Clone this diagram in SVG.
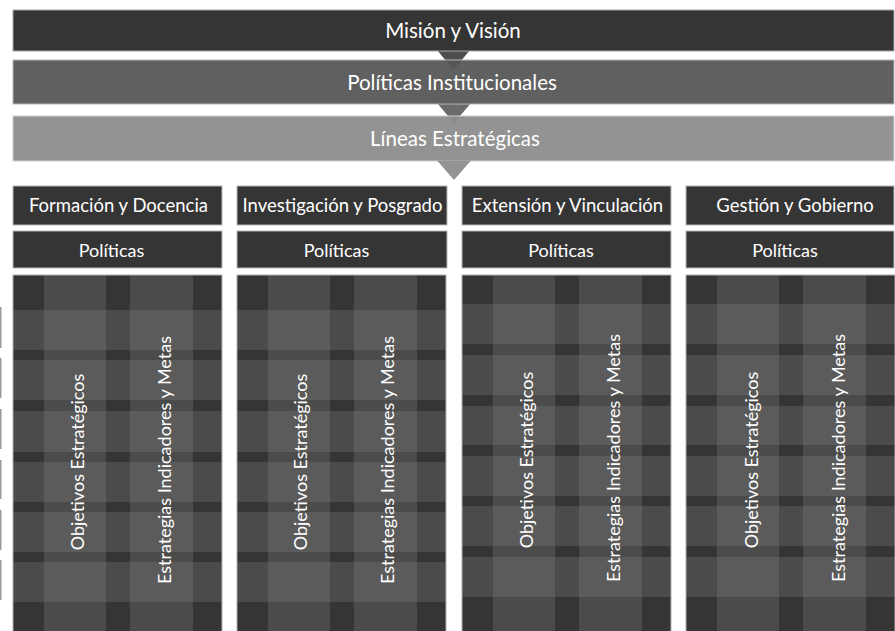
<svg xmlns="http://www.w3.org/2000/svg" xmlns:xlink="http://www.w3.org/1999/xlink" width="895" height="631" viewBox="0 0 895 631">
<style>
  .t { font-family: Lato, "Open Sans", "Liberation Sans", sans-serif; font-size: 18px; fill: #ffffff; text-anchor: middle; }
  .h { font-size: 18.5px; }
  .b { font-size: 20.5px; }
  .box { fill: #353535; stroke: #b8b8b8; stroke-width: 1; }
  .edge { fill: none; stroke: #b0b0b0; stroke-width: 1; }
  .mark { fill: #9a9a9a; }
</style>
<defs>
  <pattern id="lightRow" patternUnits="userSpaceOnUse" x="0" y="0" width="209" height="10">
    <rect x="0" y="0" width="209" height="10" fill="#4b4b4b"/>
    <rect x="31" y="0" width="62" height="10" fill="#5b5b5b"/>
    <rect x="117" y="0" width="63" height="10" fill="#5b5b5b"/>
  </pattern>
  <pattern id="darkRow" patternUnits="userSpaceOnUse" x="0" y="0" width="209" height="10">
    <rect x="0" y="0" width="209" height="10" fill="#353535"/>
    <rect x="31" y="0" width="62" height="10" fill="#4b4b4b"/>
    <rect x="117" y="0" width="63" height="10" fill="#4b4b4b"/>
  </pattern>
  <g id="plaidA">
    <rect x="0" y="0" width="209" height="356" fill="url(#lightRow)"/>
    <rect x="0" y="0" width="209" height="35" fill="url(#darkRow)"/>
    <rect x="0" y="75" width="209" height="10" fill="url(#darkRow)"/>
    <rect x="0" y="125" width="209" height="11" fill="url(#darkRow)"/>
    <rect x="0" y="177" width="209" height="10" fill="url(#darkRow)"/>
    <rect x="0" y="227" width="209" height="10" fill="url(#darkRow)"/>
    <rect x="0" y="277" width="209" height="10" fill="url(#darkRow)"/>
    <rect x="0" y="327" width="209" height="29" fill="url(#darkRow)"/>
    <rect class="edge" x="0" y="0" width="209" height="360"/>
  </g>
  <g id="plaidB">
    <rect x="0" y="0" width="209" height="356" fill="url(#lightRow)"/>
    <rect x="0" y="0" width="209" height="29" fill="url(#darkRow)"/>
    <rect x="0" y="69" width="209" height="11" fill="url(#darkRow)"/>
    <rect x="0" y="120" width="209" height="11" fill="url(#darkRow)"/>
    <rect x="0" y="170" width="209" height="11" fill="url(#darkRow)"/>
    <rect x="0" y="221" width="209" height="10" fill="url(#darkRow)"/>
    <rect x="0" y="271" width="209" height="11" fill="url(#darkRow)"/>
    <rect x="0" y="322" width="209" height="34" fill="url(#darkRow)"/>
    <rect class="edge" x="0" y="0" width="209" height="360"/>
  </g>
</defs>

<rect x="0" y="0" width="895" height="631" fill="#ffffff"/>

<g id="edge-marks">
  <rect class="mark" x="0" y="307" width="1.5" height="41"/>
  <rect class="mark" x="0" y="358" width="1.5" height="40"/>
  <rect class="mark" x="0" y="409" width="1.5" height="40"/>
  <rect class="mark" x="0" y="460" width="1.5" height="39"/>
  <rect class="mark" x="0" y="510" width="1.5" height="40"/>
  <rect class="mark" x="0" y="560" width="1.5" height="40"/>
</g>

<g id="connectors">
  <polygon points="437,50 470,50 453.5,70" fill="#4e4e4e"/>
  <polygon points="437,103 471,103 454,123" fill="#6b6b6b"/>
</g>

<g id="mision">
  <rect x="13" y="10" width="881" height="41" fill="#282828" fill-opacity="0.94" stroke="#a8a8a8" stroke-width="1"/>
  <text class="t b" x="453" y="38">Misión y Visión</text>
</g>
<g id="politicas-institucionales">
  <rect x="13" y="60" width="881" height="44" fill="#565656" fill-opacity="0.94" stroke="#b8b8b8" stroke-width="1"/>
  <text class="t b" x="452" y="89.5">Políticas Institucionales</text>
</g>
<g id="lineas-estrategicas">
  <rect x="13" y="116" width="881" height="45" fill="#8c8c8c" fill-opacity="0.94" stroke="#d0d0d0" stroke-width="1"/>
  <text class="t b" x="455" y="146">Líneas Estratégicas</text>
</g>
<g id="connector-lineas">
  <polygon points="437,160.5 471,160.5 454,180" fill="#939393"/>
</g>

<g id="col-formacion">
  <rect class="box" x="13" y="186" width="209" height="39"/>
  <text class="t h" x="118.5" y="212">Formación y Docencia</text>
  <rect class="box" x="13" y="231" width="209" height="37"/>
  <text class="t" x="111.5" y="257">Políticas</text>
  <use xlink:href="#plaidA" transform="translate(13,275)"/>
  <text class="t" transform="translate(84,462) rotate(-90)">Objetivos Estratégicos</text>
  <text class="t" transform="translate(171,460) rotate(-90)">Estrategias Indicadores y Metas</text>
</g>

<g id="col-investigacion">
  <rect class="box" x="237" y="186" width="210" height="39"/>
  <text class="t h" x="342.5" y="212">Investigación y Posgrado</text>
  <rect class="box" x="237" y="231" width="210" height="37"/>
  <text class="t" x="336.5" y="257">Políticas</text>
  <use xlink:href="#plaidA" transform="translate(237,275)"/>
  <text class="t" transform="translate(307,462) rotate(-90)">Objetivos Estratégicos</text>
  <text class="t" transform="translate(394,460) rotate(-90)">Estrategias Indicadores y Metas</text>
</g>

<g id="col-extension">
  <rect class="box" x="462" y="186" width="209" height="39"/>
  <text class="t h" x="567.5" y="212">Extensión y Vinculación</text>
  <rect class="box" x="462" y="231" width="209" height="37"/>
  <text class="t" x="561" y="257">Políticas</text>
  <use xlink:href="#plaidB" transform="translate(462,275)"/>
  <text class="t" transform="translate(533,460) rotate(-90)">Objetivos Estratégicos</text>
  <text class="t" transform="translate(620,458) rotate(-90)">Estrategias Indicadores y Metas</text>
</g>

<g id="col-gestion">
  <rect class="box" x="686" y="186" width="208" height="39"/>
  <text class="t h" x="795" y="212">Gestión y Gobierno</text>
  <rect class="box" x="686" y="231" width="208" height="37"/>
  <text class="t" x="785" y="257">Políticas</text>
  <use xlink:href="#plaidB" transform="translate(686,275)"/>
  <text class="t" transform="translate(758,460) rotate(-90)">Objetivos Estratégicos</text>
  <text class="t" transform="translate(845,458) rotate(-90)">Estrategias Indicadores y Metas</text>
</g>
</svg>
